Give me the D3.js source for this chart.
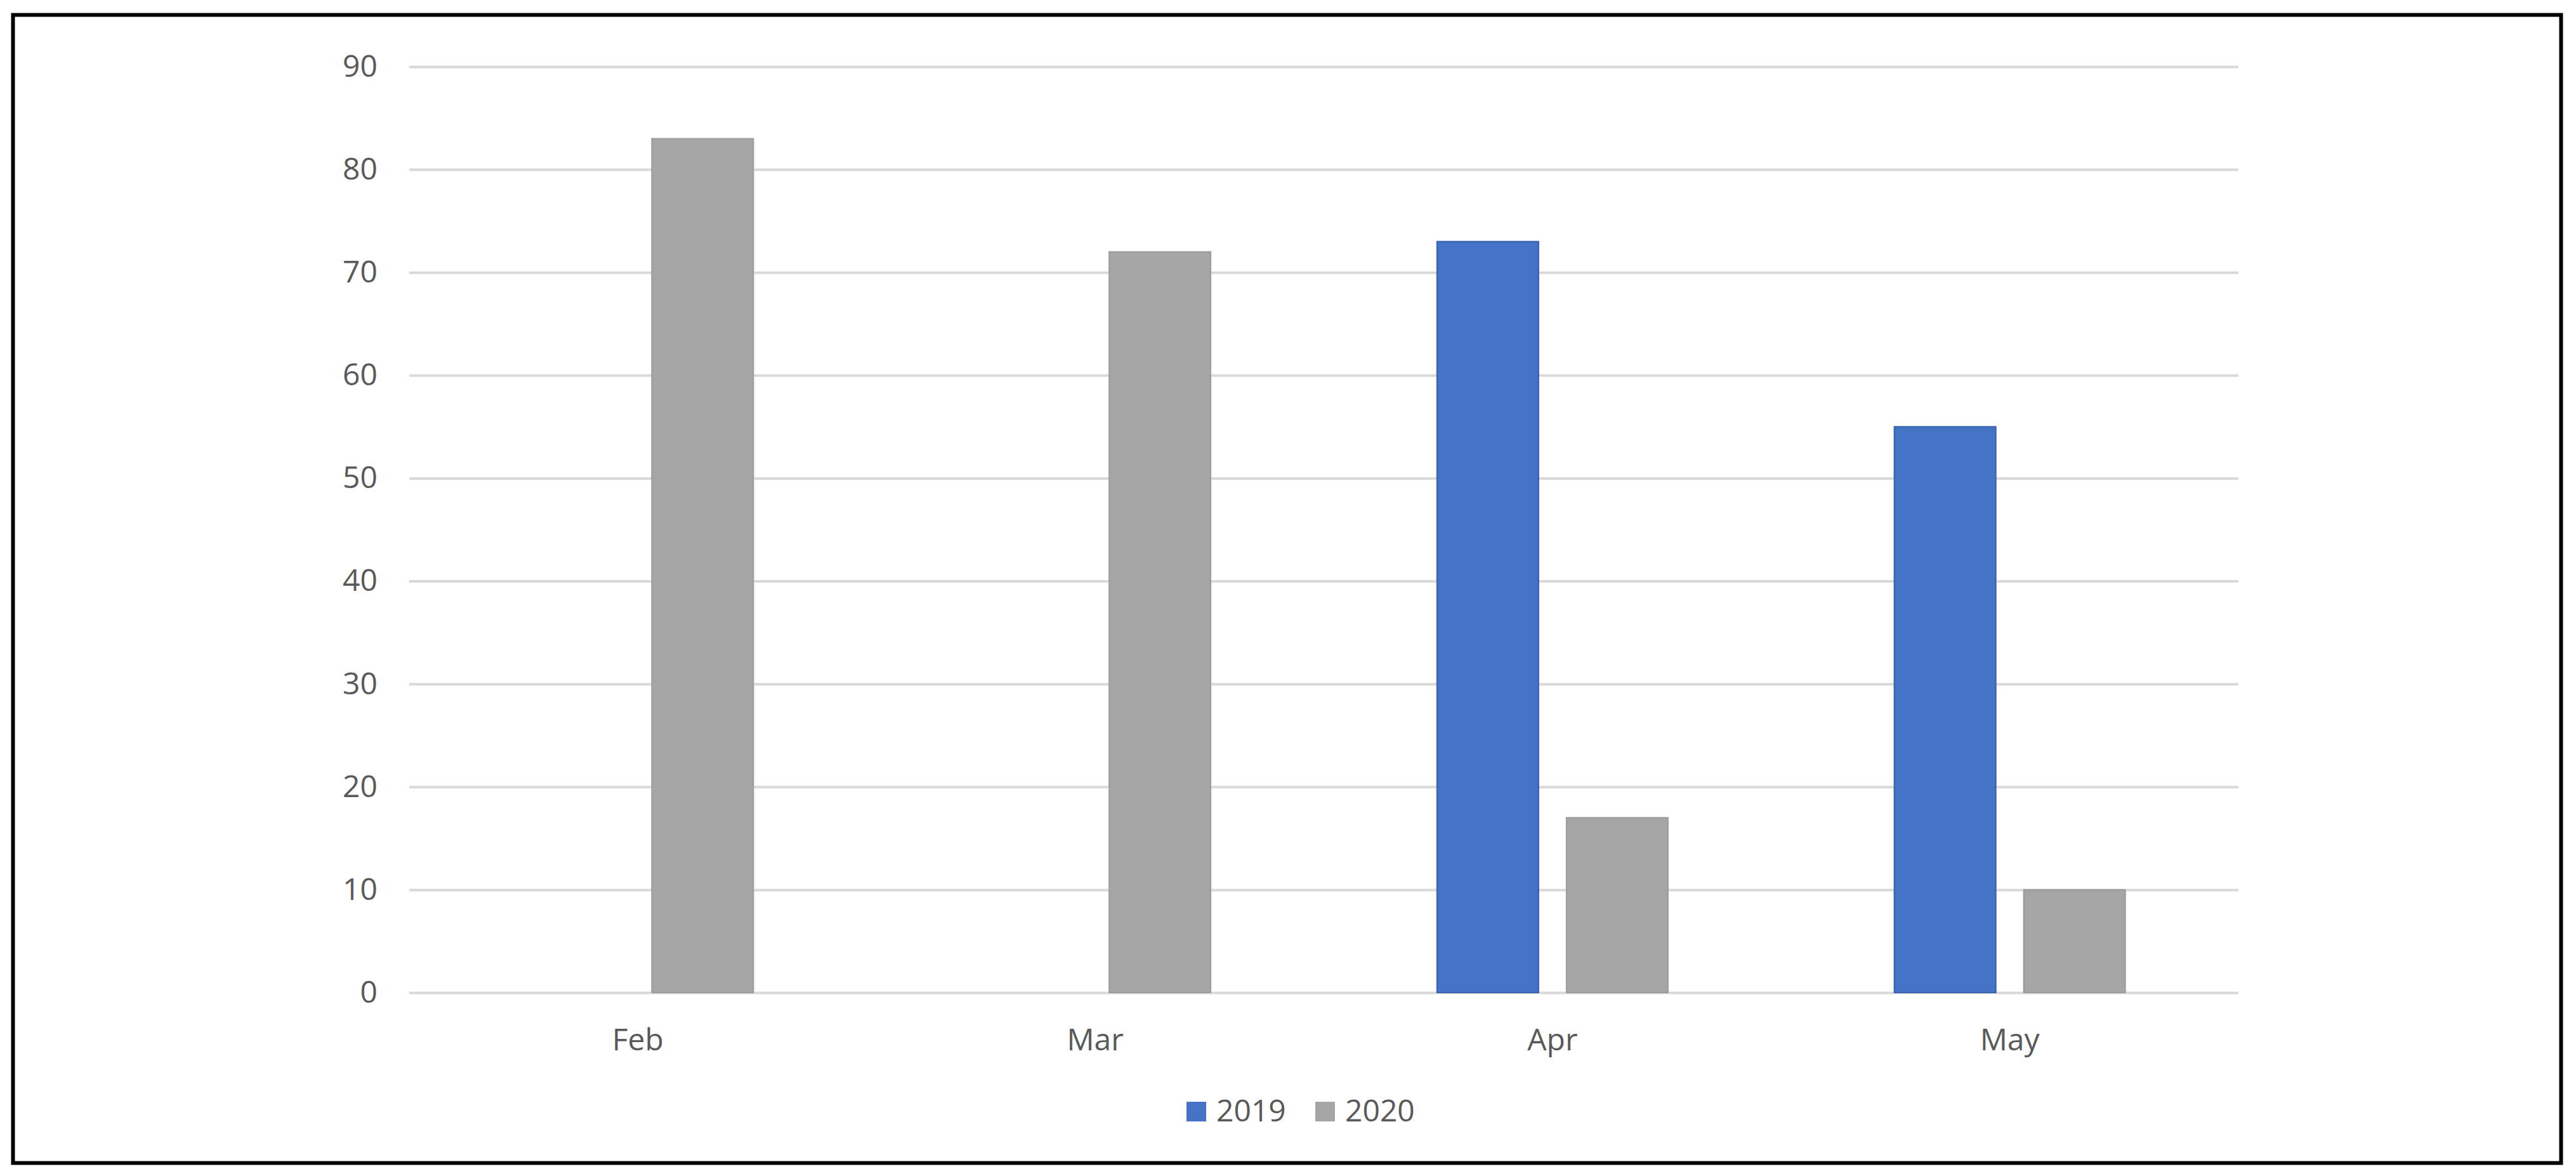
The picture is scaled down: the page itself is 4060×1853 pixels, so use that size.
<!DOCTYPE html>
<html>
<head>
<meta charset="utf-8">
<script src="https://cdn.jsdelivr.net/npm/d3@7"></script>
<style>
  body { margin: 0; background: #fff; }
  svg { display: block; font-family: "Open Sans", "Noto Sans", sans-serif; }
  .axis text { fill: #595959; font-size: 48px; font-family: "Open Sans", "Noto Sans", sans-serif; }
  .axis .domain { display: none; }
</style>
</head>
<body>
<div id="chart"></div>
<script>
// chart data
var months = ["Feb", "Mar", "Apr", "May"];
var series = ["2019", "2020"];
var values2019 = [null, null, 73, 55];
var values2020 = [83, 72, 17, 10];
var yTicks = [0, 10, 20, 30, 40, 50, 60, 70, 80, 90];

var width = 4060,
    height = 1853;

var plot = { left: 645, right: 3528, top: 105, bottom: 1564 };

var color = d3.scaleOrdinal()
    .domain(series)
    .range(["#4472c4", "#a5a5a5"]);

var stroke = d3.scaleOrdinal()
    .domain(series)
    .range(["#3560ad", "#9c9c9c"]);

var x0 = d3.scaleBand()
    .domain(months)
    .range([plot.left, plot.right])
    .padding(0);

var groupWidth = 364;

var x1 = d3.scaleBand()
    .domain(series)
    .range([0, groupWidth])
    .paddingInner(44 / 204);

var y = d3.scaleLinear()
    .domain([0, 90])
    .range([plot.bottom, plot.top]);

var svg = d3.select("#chart").append("svg")
    .attr("width", width)
    .attr("height", height);

// outer frame
svg.append("rect")
    .attr("x", 20.5)
    .attr("y", 23.5)
    .attr("width", 4016)
    .attr("height", 1809)
    .attr("fill", "#fff")
    .attr("stroke", "#000")
    .attr("stroke-width", 6);

// y axis + gridlines
svg.append("g")
    .attr("class", "axis y")
    .attr("transform", "translate(" + plot.left + ",0)")
    .call(d3.axisLeft(y)
      .tickValues(yTicks)
      .tickSizeInner(-(plot.right - plot.left))
      .tickSizeOuter(0)
      .tickPadding(50))
  .selectAll(".tick line")
    .attr("stroke", "#d9d9d9")
    .attr("stroke-width", 4);

// x axis labels
svg.append("g")
    .attr("class", "axis x")
    .attr("transform", "translate(0," + plot.bottom + ")")
    .call(d3.axisBottom(x0).tickSize(0).tickPadding(57));

var rows = months.map(function(m, i) {
  return { month: m, values: [
    { key: "2019", value: values2019[i] },
    { key: "2020", value: values2020[i] }
  ] };
});

var groups = svg.selectAll(".group")
    .data(rows)
  .enter().append("g")
    .attr("class", "group")
    .attr("transform", function(d) {
      return "translate(" + (x0(d.month) + (x0.bandwidth() - groupWidth) / 2) + ",0)";
    });

groups.selectAll("rect")
    .data(function(d) { return d.values.filter(function(v) { return v.value != null; }); })
  .enter().append("rect")
    .attr("x", function(d) { return x1(d.key); })
    .attr("y", function(d) { return y(d.value); })
    .attr("width", x1.bandwidth())
    .attr("height", function(d) { return y(0) - y(d.value); })
    .attr("fill", function(d) { return color(d.key); })
    .attr("stroke", function(d) { return stroke(d.key); })
    .attr("stroke-width", 2);

// legend
var legendPos = [1870, 2073];

var legend = svg.selectAll(".legend")
    .data(series)
  .enter().append("g")
    .attr("class", "legend")
    .attr("transform", function(d, i) { return "translate(" + legendPos[i] + ",1736)"; });

legend.append("rect")
    .attr("width", 31)
    .attr("height", 31)
    .attr("fill", function(d) { return color(d); });

legend.append("text")
    .attr("x", 47)
    .attr("y", 31)
    .attr("fill", "#595959")
    .style("font-size", "48px")
    .text(function(d) { return d; });
</script>
</body>
</html>
